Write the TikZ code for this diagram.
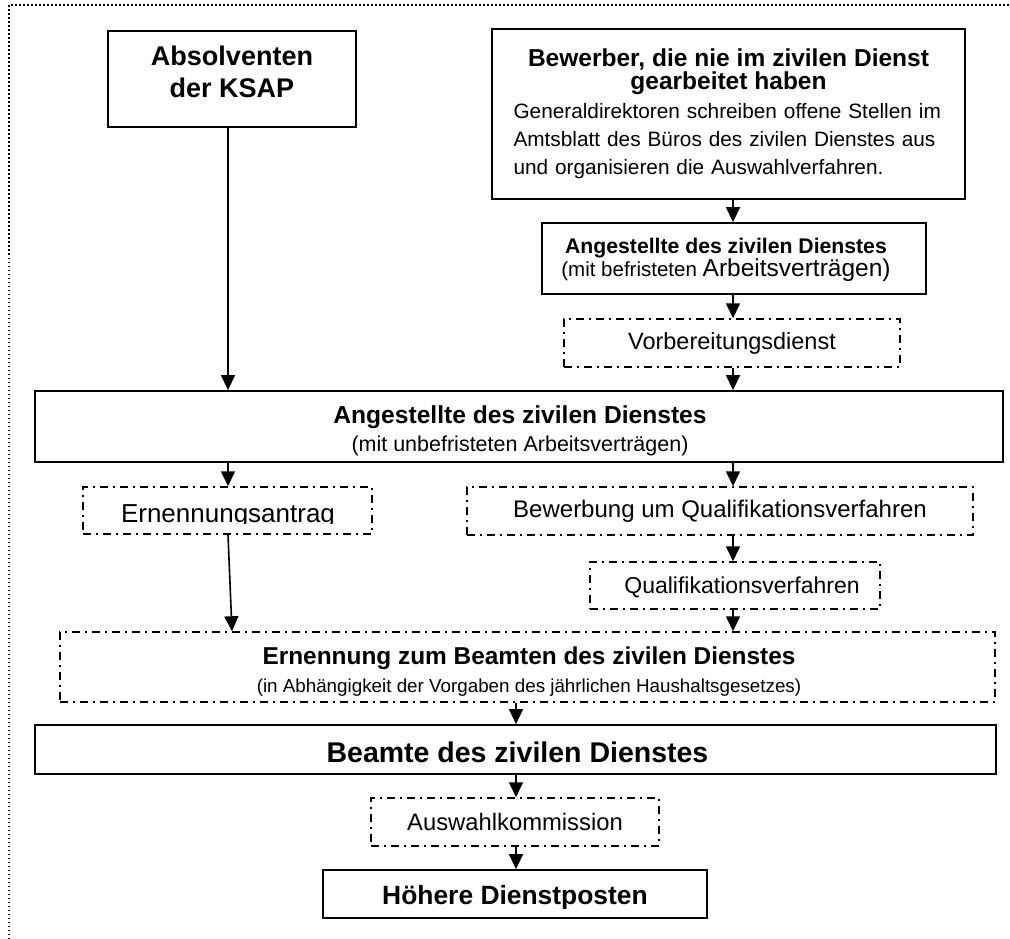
\documentclass[tikz,border=0pt]{standalone}
\usepackage{fontspec}
\setmainfont{Liberation Sans}
\usetikzlibrary{arrows.meta}
\begin{document}
\begin{tikzpicture}[x=1pt,y=-1pt,
  solidbox/.style={draw, line width=1.8pt, inner sep=0pt},
  dbox/.style={draw, line width=1.5pt, dash pattern=on 8pt off 5pt on 2pt off 5pt, inner sep=0pt},
  arr/.style={line width=1.6pt, -{Triangle[width=14pt,length=15pt]}},
  frame/.style={line width=1.5pt, dash pattern=on 1.5pt off 2.5pt},
  txt/.style={inner sep=0pt}
]
\useasboundingbox (0,0) rectangle (1010,939);

% outer dotted frame (only top and left edges visible)
\draw[frame] (9,939) -- (9,5) -- (1010,5);

% helper x positions for connectors
\coordinate (xL) at (228,0);
\coordinate (xL2) at (232,0);
\coordinate (xR) at (733,0);
\coordinate (xM) at (516,0);

% Absolventen der KSAP
\node[solidbox, minimum width=248pt, minimum height=96pt] (abs) at (232,79) {};
\node[txt, font=\bfseries\fontsize{27}{32}\selectfont, align=center] (absT) at (232,71.5) {Absolventen\\der KSAP};

% Bewerber
\node[solidbox, minimum width=473pt, minimum height=170pt, text width=430pt, align=left,
      font=\fontsize{20.8}{28}\selectfont] (bew) at (728.5,114)
 {\makebox[430pt]{\bfseries\fontsize{24.5}{28}\selectfont Bewerber, die nie im zivilen Dienst}\\[-5pt]
  \makebox[430pt]{\bfseries\fontsize{24.5}{28}\selectfont gearbeitet haben}\\[1pt]
  Generaldirektoren schreiben offene Stellen im\\
  Amtsblatt des Büros des zivilen Dienstes aus\\
  und organisieren die Auswahlverfahren.};

% Angestellte (befristet)
\node[solidbox, minimum width=384pt, minimum height=71pt] (angb) at (734,258.5) {};
\node[txt, align=center, font=\fontsize{20.5}{22}\selectfont] (angbT) at (726,260)
 {{\bfseries\fontsize{21.2}{22}\selectfont Angestellte des zivilen Dienstes}\\
  (mit befristeten {\fontsize{24.5}{22}\selectfont Arbeitsverträgen)}};

% Vorbereitungsdienst
\node[dbox, minimum width=336pt, minimum height=48pt, font=\fontsize{23.5}{28}\selectfont] (vorb) at (732,343) {Vorbereitungsdienst};

% Angestellte (unbefristet)
\node[solidbox, minimum width=968pt, minimum height=71pt] (ang) at (519,426.5) {};
\node[txt, align=center, font=\fontsize{21.5}{28}\selectfont] (angT) at (520,430.5)
 {{\bfseries\fontsize{24.6}{28}\selectfont Angestellte des zivilen Dienstes}\\
  (mit unbefristeten Arbeitsverträgen)};

% Ernennungsantrag (text clipped at the bottom as in the reference)
\node[dbox, minimum width=289pt, minimum height=47pt] (ernA) at (227.5,510.5) {};
\begin{scope}
  \clip (83,480) rectangle (372,523.5);
  \node[txt, font=\fontsize{26}{28}\selectfont, anchor=base] (ernAT) at (228,522) {Ernennungsantrag};
\end{scope}

% Bewerbung um Qualifikationsverfahren
\node[dbox, minimum width=506pt, minimum height=48pt, font=\fontsize{24}{28}\selectfont] (bewQ) at (720,511) {Bewerbung um Qualifikationsverfahren};

% Qualifikationsverfahren
\node[dbox, minimum width=290pt, minimum height=47pt] (qual) at (735,585.5) {};
\node[txt, font=\fontsize{23}{28}\selectfont] (qualT) at (742,587) {Qualifikationsverfahren};

% Ernennung zum Beamten
\node[dbox, minimum width=935pt, minimum height=70pt] (ern) at (527.5,667) {};
\node[txt, align=center, font=\fontsize{18.8}{28}\selectfont] (ernT) at (529,672)
 {{\bfseries\fontsize{24.4}{28}\selectfont Ernennung zum Beamten des zivilen Dienstes}\\
  (in Abhängigkeit der Vorgaben des jährlichen Haushaltsgesetzes)};

% Beamte des zivilen Dienstes
\node[solidbox, minimum width=961pt, minimum height=49pt] (beamte) at (515.5,749.5) {};
\node[txt, font=\bfseries\fontsize{28.5}{30}\selectfont] (beamteT) at (517.5,752.5) {Beamte des zivilen Dienstes};

% Auswahlkommission
\node[dbox, minimum width=288pt, minimum height=48pt, font=\fontsize{23.8}{28}\selectfont] (ausw) at (515,822) {Auswahlkommission};

% Hoehere Dienstposten
\node[solidbox, minimum width=384pt, minimum height=48pt] (hoh) at (515,894) {};
\begin{scope}
  \clip (323,860) rectangle (707,908);
  \node[txt, font=\bfseries\fontsize{26.4}{28}\selectfont, anchor=base] (hohT) at (515,904) {Höhere Dienstposten};
\end{scope}

% connectors
\draw[arr] (abs.south -| xL) -- (ang.north -| xL);
\draw[arr] (bew.south -| xR) -- (angb.north -| xR);
\draw[arr] (angb.south -| xR) -- (vorb.north -| xR);
\draw[arr] (vorb.south -| xR) -- (ang.north -| xR);
\draw[arr] (ang.south -| xL) -- (ernA.north -| xL);
\draw[arr] (ang.south -| xR) -- (bewQ.north -| xR);
\draw[arr] (bewQ.south -| xR) -- (qual.north -| xR);
\draw[arr] (ernA.south -| xL) -- (ern.north -| xL2);
\draw[arr] (qual.south -| xR) -- (ern.north -| xR);
\draw[arr] (ern.south -| xM) -- (beamte.north -| xM);
\draw[arr] (beamte.south -| xM) -- (ausw.north -| xM);
\draw[arr] (ausw.south -| xM) -- (hoh.north -| xM);
\end{tikzpicture}
\end{document}
